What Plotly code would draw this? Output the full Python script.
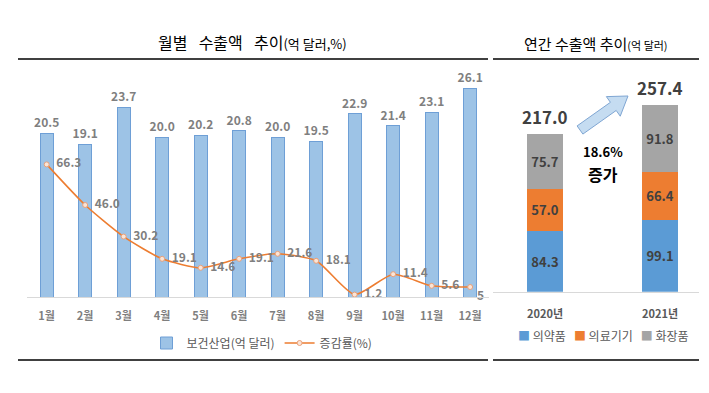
import math
import plotly.graph_objects as go

# ---------------- data ----------------
months = ["1월", "2월", "3월", "4월", "5월", "6월", "7월", "8월", "9월", "10월", "11월", "12월"]
monthly_export = [20.5, 19.1, 23.7, 20.0, 20.2, 20.8, 20.0, 19.5, 22.9, 21.4, 23.1, 26.1]
growth_rate = [66.3, 46.0, 30.2, 19.1, 14.6, 19.1, 21.6, 18.1, 1.2, 11.4, 5.6, 5.0]

years = ["2020년", "2021년"]
pharma = [84.3, 99.1]
medical = [57.0, 66.4]
cosmetics = [75.7, 91.8]
totals = [217.0, 257.4]

# page body has an 8px margin, so the figure is 8px smaller on each axis
OFF = 8
W, H = 709 - OFF, 393 - OFF


def px(x):
    return (x - OFF) / W


def py(y):
    return (H - (y - OFF)) / H


GRAY = "#7F7F7F"
DARK = "#404040"
FONT = "Noto Sans CJK KR"
NB = "\u00a0"
GAP = "\u2002\u2009"

growth_text = [NB * 2 + f"{v:.1f}" for v in growth_rate]
growth_text[-1] = NB + "5"
growth_pos = ["middle right"] * len(growth_rate)
growth_pos[-1] = "bottom right"

fig = go.Figure()

fig.add_trace(go.Bar(
    x=months, y=monthly_export, name="보건산업(억 달러)",
    marker=dict(color="#9DC3E6", line=dict(color="#6E9FD6", width=1)),
    width=0.33,
    text=[f"{v:.1f}" for v in monthly_export], textposition="outside", constraintext="none",
    textfont=dict(size=12, color=GRAY, family=FONT, weight="bold"),
    cliponaxis=False, xaxis="x", yaxis="y", legend="legend",
))
fig.add_trace(go.Scatter(
    x=months, y=growth_rate, name="증감률(%)", mode="lines+markers+text",
    line=dict(color="#ED7D31", width=1.6, shape="spline", smoothing=0.6),
    marker=dict(size=5, color="#FBE5D6", line=dict(color="#E9A07A", width=1)),
    text=growth_text, textposition=growth_pos,
    textfont=dict(size=12, color=GRAY, family=FONT, weight="bold"),
    cliponaxis=False, xaxis="x", yaxis="y2", legend="legend",
))

seg_font = dict(size=13, color=DARK, family=FONT, weight="bold")
stack_series = [("의약품", pharma, "#5B9BD5"), ("의료기기", medical, "#ED7D31"), ("화장품", cosmetics, "#A5A5A5")]
for name, vals, col in stack_series:
    fig.add_trace(go.Bar(
        x=[0, 1], y=vals, name=name, marker=dict(color=col, line=dict(width=0)),
        width=0.31, text=[f"{v:.1f}" for v in vals], textposition="inside",
        insidetextanchor="middle", textfont=seg_font, constraintext="none",
        xaxis="x2", yaxis="y3", showlegend=False,
    ))

for i, t in enumerate(totals):
    fig.add_annotation(x=i, y=t, xref="x2", yref="y3", text=f"{t:.1f}", showarrow=False,
                       xanchor="center", yanchor="bottom", yshift=3,
                       font=dict(size=17, color=DARK, family=FONT, weight="bold"))

pct = (totals[1] - totals[0]) / totals[0] * 100
fig.add_annotation(x=px(603), y=py(151), xref="paper", yref="paper", text=f"{pct:.1f}%",
                   xanchor="center", yanchor="middle", showarrow=False,
                   font=dict(size=13, color="#000000", family=FONT, weight="bold"))
fig.add_annotation(x=px(603), y=py(174), xref="paper", yref="paper", text="증가",
                   xanchor="center", yanchor="middle", showarrow=False,
                   font=dict(size=16, color="#000000", family=FONT, weight="bold"))

# legend of the right chart (compact, as in the reference)
legend2_text = (NB * 3).join(
    f"<span style='color:{c}'>■</span>{NB}{n}" for n, _, c in stack_series)
fig.add_annotation(x=px(603), y=py(335), xref="paper", yref="paper", text=legend2_text,
                   xanchor="center", yanchor="middle", showarrow=False,
                   font=dict(size=12, color="#595959", family=FONT))

# titles
fig.add_annotation(x=px(253), y=py(42), xref="paper", yref="paper", showarrow=False,
                   xanchor="center", yanchor="middle",
                   text=f"월별{GAP}수출액{GAP}추이<span style='font-size:13px'>(억 달러,%)</span>",
                   font=dict(size=16, color="#000000", family=FONT))
fig.add_annotation(x=px(596), y=py(43), xref="paper", yref="paper", showarrow=False,
                   xanchor="center", yanchor="middle",
                   text="연간 수출액 추이<span style='font-size:11px'>(억 달러)</span>",
                   font=dict(size=15, color="#000000", family=FONT))

# separator lines
for (x0, x1) in [(18, 488), (493, 699)]:
    for yy in (59, 360):
        fig.add_shape(type="line", xref="paper", yref="paper", x0=px(x0), x1=px(x1),
                      y0=py(yy), y1=py(yy), line=dict(color="#000000", width=1.5))

# decorative block arrow
tx, ty, hx, hy = 580, 130, 628, 96
L = math.hypot(hx - tx, hy - ty)
ux, uy = (hx - tx) / L, (hy - ty) / L
nx, ny = -uy, ux
sw, hw, hl = 5, 12, 18
bx, by = hx - hl * ux, hy - hl * uy
pts = [(tx + sw * nx, ty + sw * ny), (bx + sw * nx, by + sw * ny), (bx + hw * nx, by + hw * ny),
       (hx, hy), (bx - hw * nx, by - hw * ny), (bx - sw * nx, by - sw * ny), (tx - sw * nx, ty - sw * ny)]
path = "M " + " L ".join(f"{px(a):.5f},{py(b):.5f}" for a, b in pts) + " Z"
fig.add_shape(type="path", path=path, xref="paper", yref="paper",
              fillcolor="#C5DCF1", line=dict(color="#7FA6D3", width=1))

fig.update_layout(
    width=W, height=H, margin=dict(l=0, r=0, t=0, b=0, pad=0),
    paper_bgcolor="white", plot_bgcolor="rgba(0,0,0,0)",
    barmode="stack", showlegend=True,
    font=dict(family=FONT),
    xaxis=dict(domain=[px(27.4), px(489.4)], range=[-0.5, 11.5], showgrid=False, zeroline=False,
               showline=True, linecolor="#D9D9D9", linewidth=1, ticks="",
               tickfont=dict(size=11, color=GRAY, family=FONT, weight="bold"), ticklabelstandoff=9),
    yaxis=dict(domain=[py(297), py(57)], range=[0, 30], visible=False),
    yaxis2=dict(overlaying="y", range=[0, 120], visible=False),
    xaxis2=dict(domain=[px(493), px(699)], range=[-0.452, 1.339], showgrid=False, zeroline=False,
                showline=True, linecolor="#D9D9D9", linewidth=1, ticks="",
                tickvals=[0, 1], ticktext=years, anchor="y3",
                tickfont=dict(size=11, color="#595959", family=FONT, weight="bold"), ticklabelstandoff=12),
    yaxis3=dict(domain=[py(291.7), py(60)], range=[0, 319.6], visible=False, anchor="x2"),
    legend=dict(orientation="h", x=px(262), xanchor="center", y=py(343), yanchor="middle",
                font=dict(size=12, color="#595959", family=FONT), bgcolor="rgba(0,0,0,0)",
                itemwidth=30, traceorder="normal"),
)

fig.write_html("out.html")
